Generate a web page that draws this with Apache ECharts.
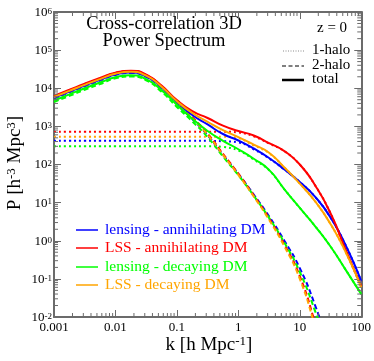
<!DOCTYPE html>
<html>
<head>
<meta charset="utf-8">
<script src="https://cdn.jsdelivr.net/npm/echarts@6/dist/echarts.min.js"></script>
<style>
  html, body { margin: 0; padding: 0; background: #fff; }
  #main { width: 374px; height: 361px; }
</style>
</head>
<body>
<div id="main"></div>
<script>
// wavenumbers k [h/Mpc], quarter-decade steps
const kGrid = [0.001, 0.00178, 0.00316, 0.00562, 0.01, 0.0178, 0.0316, 0.0562, 0.1, 0.178, 0.316, 0.562,
               1, 1.78, 3.16, 5.62, 10, 17.8, 31.6, 56.2, 100];

// log10 P
const totalRed    = [3.80, 3.96, 4.12, 4.27, 4.41, 4.46, 4.36, 4.07, 3.69, 3.40, 3.22, 3.02,
                     2.88, 2.76, 2.56, 2.35, 2.00, 1.45, 0.72, -0.25, -1.19];
const totalOrange = [3.77, 3.93, 4.09, 4.24, 4.38, 4.43, 4.33, 4.04, 3.66, 3.35, 3.12, 2.90,
                     2.72, 2.52, 2.31, 1.92, 1.50, 1.03, 0.44, -0.31, -1.22];
const totalBlue   = [3.75, 3.91, 4.07, 4.22, 4.36, 4.41, 4.31, 4.02, 3.64, 3.30, 3.05, 2.80,
                     2.63, 2.42, 2.17, 1.87, 1.54, 1.15, 0.61, -0.13, -1.06];
const totalGreen  = [3.68, 3.84, 4.00, 4.15, 4.29, 4.34, 4.24, 3.95, 3.57, 3.20, 2.88, 2.62,
                     2.40, 2.15, 1.86, 1.35, 0.86, 0.38, -0.15, -0.77, -1.40];

const oneHaloRed    = [2.86, 2.86, 2.86, 2.86, 2.86, 2.86, 2.86, 2.86, 2.86, 2.86, 2.86, 2.86,
                       2.84, 2.74, 2.55, 2.35, 2.00, 1.45, 0.72, -0.25, -1.19];
const oneHaloOrange = [2.73, 2.73, 2.73, 2.73, 2.73, 2.73, 2.73, 2.73, 2.73, 2.73, 2.73, 2.73,
                       2.69, 2.50, 2.30, 1.92, 1.50, 1.03, 0.44, -0.31, -1.22];
const oneHaloBlue   = [2.62, 2.62, 2.62, 2.62, 2.62, 2.62, 2.62, 2.62, 2.62, 2.62, 2.62, 2.61,
                       2.58, 2.40, 2.16, 1.87, 1.54, 1.15, 0.61, -0.13, -1.06];
const oneHaloGreen  = [2.48, 2.48, 2.48, 2.48, 2.48, 2.48, 2.48, 2.48, 2.48, 2.48, 2.48, 2.46,
                       2.37, 2.13, 1.85, 1.35, 0.86, 0.38, -0.15, -0.77, -1.40];

// 2-halo leaves the frame around k ~ 15-20
const twoHaloRed    = [3.78, 3.94, 4.10, 4.25, 4.40, 4.45, 4.35, 4.05, 3.63, 3.24, 2.81, 2.28,
                       1.76, 1.19, 0.59, -0.10, -0.93, -2.16, -3.50];
const twoHaloOrange = [3.75, 3.91, 4.07, 4.22, 4.37, 4.42, 4.32, 4.02, 3.60, 3.21, 2.78, 2.25,
                       1.73, 1.16, 0.55, -0.15, -1.00, -2.25, -3.60];
const twoHaloBlue   = [3.73, 3.89, 4.05, 4.20, 4.35, 4.40, 4.30, 4.00, 3.58, 3.19, 2.77, 2.25,
                       1.75, 1.21, 0.64, 0.00, -0.72, -1.70, -2.90];
const twoHaloGreen  = [3.64, 3.80, 3.96, 4.11, 4.26, 4.31, 4.21, 3.91, 3.51, 3.13, 2.72, 2.21,
                       1.72, 1.18, 0.60, -0.05, -0.82, -1.85, -3.00];

const xTickLabels = ['0.001', '0.01', '0.1', '1', '10', '100'];
const yTickExponents = [-2, -1, 0, 1, 2, 3, 4, 5, 6];

const legendNames = ['lensing - annihilating DM', 'LSS - annihilating DM',
                     'lensing - decaying DM', 'LSS - decaying DM'];

const FONT = 'Liberation Serif';
const AXIS_GRAY = '#6b6b6b';
const X_MIN = 0.001, X_MAX = 100, Y_MIN = 0.01, Y_MAX = 1e6;

const curves = [
  { color: '#0000ff', total: totalBlue,   one: oneHaloBlue,   two: twoHaloBlue },
  { color: '#ff0000', total: totalRed,    one: oneHaloRed,    two: twoHaloRed },
  { color: '#00ff00', total: totalGreen,  one: oneHaloGreen,  two: twoHaloGreen },
  { color: '#ffa500', total: totalOrange, one: oneHaloOrange, two: twoHaloOrange }
];

const toPairs = logs => logs.map((e, i) => [kGrid[i], Math.pow(10, e)]);

// minor ticks at 2..9 x 10^n, log axes only get the decades
const minorX = [], minorY = [];
for (let d = -3; d < 2; d++) for (let m = 2; m < 10; m++) minorX.push([m * Math.pow(10, d), Y_MIN]);
for (let d = -2; d < 6; d++) for (let m = 2; m < 10; m++) minorY.push([X_MIN, m * Math.pow(10, d)]);

function tickLine(x1, y1, x2, y2) {
  return { type: 'line', shape: { x1, y1, x2, y2 }, style: { stroke: AXIS_GRAY, lineWidth: 1 } };
}

const SMOOTH = 0.55;
const series = [];
curves.forEach(c => {
  series.push({ type: 'line', data: toPairs(c.one), showSymbol: false, smooth: 0.45, z: 2,
    lineStyle: { color: c.color, width: 2, type: [2, 3] } });
});
curves.forEach(c => {
  series.push({ type: 'line', data: toPairs(c.two), showSymbol: false, smooth: SMOOTH, z: 3,
    lineStyle: { color: c.color, width: 2, type: [5, 3] } });
});
curves.forEach(c => {
  series.push({ type: 'line', data: toPairs(c.total), showSymbol: false, smooth: SMOOTH, z: 4,
    lineStyle: { color: c.color, width: 2 } });
});
series.push({
  type: 'custom', data: minorX, silent: true, z: 5,
  renderItem: (params, api) => {
    const v = api.value(0);
    const b = api.coord([v, Y_MIN]), t = api.coord([v, Y_MAX]);
    return { type: 'group', children: [tickLine(b[0], b[1], b[0], b[1] - 4), tickLine(t[0], t[1], t[0], t[1] + 4)] };
  }
});
series.push({
  type: 'custom', data: minorY, silent: true, z: 5,
  renderItem: (params, api) => {
    const v = api.value(1);
    const l = api.coord([X_MIN, v]), r = api.coord([X_MAX, v]);
    return { type: 'group', children: [tickLine(l[0], l[1], l[0] + 4, l[1]), tickLine(r[0], r[1], r[0] - 4, r[1])] };
  }
});

const axisCommon = {
  type: 'log', logBase: 10,
  axisLine: { show: true, onZero: false, lineStyle: { color: AXIS_GRAY, width: 2 } },
  axisTick: { show: true, inside: true, length: 7, lineStyle: { color: AXIS_GRAY, width: 1 } },
  splitLine: { show: false }
};

const supRich = {
  b: { fontFamily: FONT, fontSize: 13, color: '#000', lineHeight: 14, padding: [6, 0, 0, 0], verticalAlign: 'bottom' },
  s: { fontFamily: FONT, fontSize: 9, color: '#000', lineHeight: 10, padding: [2, 0, 0, 0], verticalAlign: 'top' }
};

const titleRich = {
  m: { fontFamily: FONT, fontSize: 19, color: '#000', lineHeight: 20, padding: [7, 0, 0, 0], verticalAlign: 'bottom' },
  s: { fontFamily: FONT, fontSize: 13, color: '#000', lineHeight: 14, padding: [0, 0, 0, 0], verticalAlign: 'top' }
};

const legendRows = [230, 248, 267, 285];
const graphic = [
  { type: 'text', x: 164, y: 33, style: {
      text: 'Cross-correlation 3D\nPower Spectrum', fontFamily: FONT, fontSize: 18.5, lineHeight: 17,
      fill: '#000', align: 'center', verticalAlign: 'middle' } },
  { type: 'text', x: 317, y: 28, style: { text: 'z = 0', fontFamily: FONT, fontSize: 15, fill: '#000', verticalAlign: 'middle' } },
  { type: 'line', shape: { x1: 283, y1: 51, x2: 304, y2: 51 }, style: { stroke: '#8a8a8a', lineWidth: 1, lineDash: [1, 1.5] } },
  { type: 'text', x: 312, y: 50, style: { text: '1-halo', fontFamily: FONT, fontSize: 15, fill: '#000', verticalAlign: 'middle' } },
  { type: 'line', shape: { x1: 282, y1: 66, x2: 304, y2: 66 }, style: { stroke: '#000', lineWidth: 1.2, lineDash: [4, 2.5] } },
  { type: 'text', x: 312, y: 65, style: { text: '2-halo', fontFamily: FONT, fontSize: 15, fill: '#000', verticalAlign: 'middle' } },
  { type: 'line', shape: { x1: 282, y1: 80, x2: 304, y2: 80 }, style: { stroke: '#000', lineWidth: 2.5 } },
  { type: 'text', x: 312, y: 79, style: { text: 'total', fontFamily: FONT, fontSize: 15, fill: '#000', verticalAlign: 'middle' } },
  { type: 'text', x: 209, y: 345, style: {
      text: '{m|k [h Mpc}{s|-1}{m|]}', rich: titleRich, align: 'center', verticalAlign: 'middle' } },
  { type: 'text', x: 15, y: 163, rotation: Math.PI / 2, style: {
      text: '{m|P [h}{s|-3}{m| Mpc}{s|3}{m|]}', rich: titleRich, align: 'center', verticalAlign: 'middle' } }
];
curves.forEach((c, i) => {
  graphic.push({ type: 'line', shape: { x1: 76, y1: legendRows[i], x2: 98, y2: legendRows[i] },
    style: { stroke: c.color, lineWidth: 1.5 } });
  graphic.push({ type: 'text', x: 105, y: legendRows[i], style: {
    text: legendNames[i], fontFamily: FONT, fontSize: 15.5, fill: c.color, verticalAlign: 'middle' } });
});

const chart = echarts.init(document.getElementById('main'), null, { renderer: 'canvas' });
chart.setOption({
  animation: false,
  backgroundColor: '#fff',
  grid: { left: 54, right: 10, top: 7, bottom: 44 },
  xAxis: [
    Object.assign({}, axisCommon, { min: X_MIN, max: X_MAX, position: 'bottom',
      axisLabel: { margin: 4, fontFamily: FONT, fontSize: 13, color: '#000',
        formatter: (v, i) => xTickLabels[i] } }),
    Object.assign({}, axisCommon, { min: X_MIN, max: X_MAX, position: 'top', axisLabel: { show: false } })
  ],
  yAxis: [
    Object.assign({}, axisCommon, { min: Y_MIN, max: Y_MAX, position: 'left',
      axisLabel: { margin: 2, rich: supRich,
        formatter: (v, i) => '{b|10}{s|' + yTickExponents[i] + '}' } }),
    Object.assign({}, axisCommon, { min: Y_MIN, max: Y_MAX, position: 'right', axisLabel: { show: false } })
  ],
  series: series,
  graphic: graphic
});
</script>
</body>
</html>
